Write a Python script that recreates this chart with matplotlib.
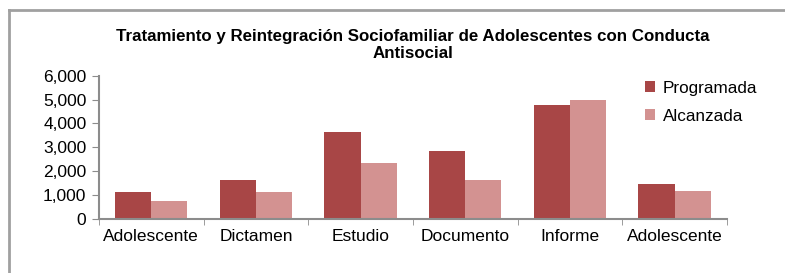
import matplotlib.pyplot as plt
import numpy as np
from matplotlib.lines import Line2D

plt.rcParams["font.family"] = ["Liberation Sans", "DejaVu Sans"]

# datos
categorias = ["Adolescente", "Dictamen", "Estudio", "Documento", "Informe", "Adolescente"]
programada = [1150, 1650, 3650, 2850, 4770, 1480]
alcanzada = [750, 1150, 2330, 1650, 5000, 1190]

color_prog = "#A84646"
color_alc = "#D39291"
gris = "#8C8C8C"

fig = plt.figure(figsize=(7.85, 2.73), dpi=100)
ax = fig.add_axes([0.126, 0.197, 0.8, 0.526])

x = np.arange(len(categorias))
ancho = 0.345
ax.bar(x - ancho / 2, programada, ancho, color=color_prog, label="Programada")
ax.bar(x + ancho / 2, alcanzada, ancho, color=color_alc, label="Alcanzada")

ax.set_xlim(-0.5, len(categorias) - 0.5)
ax.set_ylim(0, 6000)
ax.set_yticks(range(0, 6001, 1000))
ax.set_yticklabels([f"{v:,}" for v in range(0, 6001, 1000)], fontsize=12.5)
ax.set_xticks(x)
ax.set_xticklabels(categorias, fontsize=12.5)
ax.set_xticks(np.arange(-0.5, len(categorias), 1), minor=True)
ax.tick_params(axis="x", which="major", length=0, pad=7)
ax.tick_params(axis="x", which="minor", length=4, color=gris, direction="out")
ax.tick_params(axis="y", length=5, color=gris, direction="out", pad=4)

for lado in ["top", "right"]:
    ax.spines[lado].set_visible(False)
for lado in ["left", "bottom"]:
    ax.spines[lado].set_color(gris)
    ax.spines[lado].set_linewidth(1.5)

ax.set_title("Tratamiento y Reintegración Sociofamiliar de Adolescentes con Conducta\nAntisocial",
             fontsize=12.2, fontweight="bold", linespacing=1.15, pad=12.5)

ax.legend(loc="upper left", bbox_to_anchor=(0.845, 1.07), frameon=False, fontsize=12.3,
          handlelength=0.6, handleheight=0.6, handletextpad=0.45, labelspacing=0.75)

# borde del grafico
fig.add_artist(Line2D([0.011, 0.011], [0, 0.965], transform=fig.transFigure, color="#A0A0A0", lw=2))
fig.add_artist(Line2D([0.011, 1], [0.965, 0.965], transform=fig.transFigure, color="#A0A0A0", lw=2))

plt.savefig("out.png", dpi=100)
